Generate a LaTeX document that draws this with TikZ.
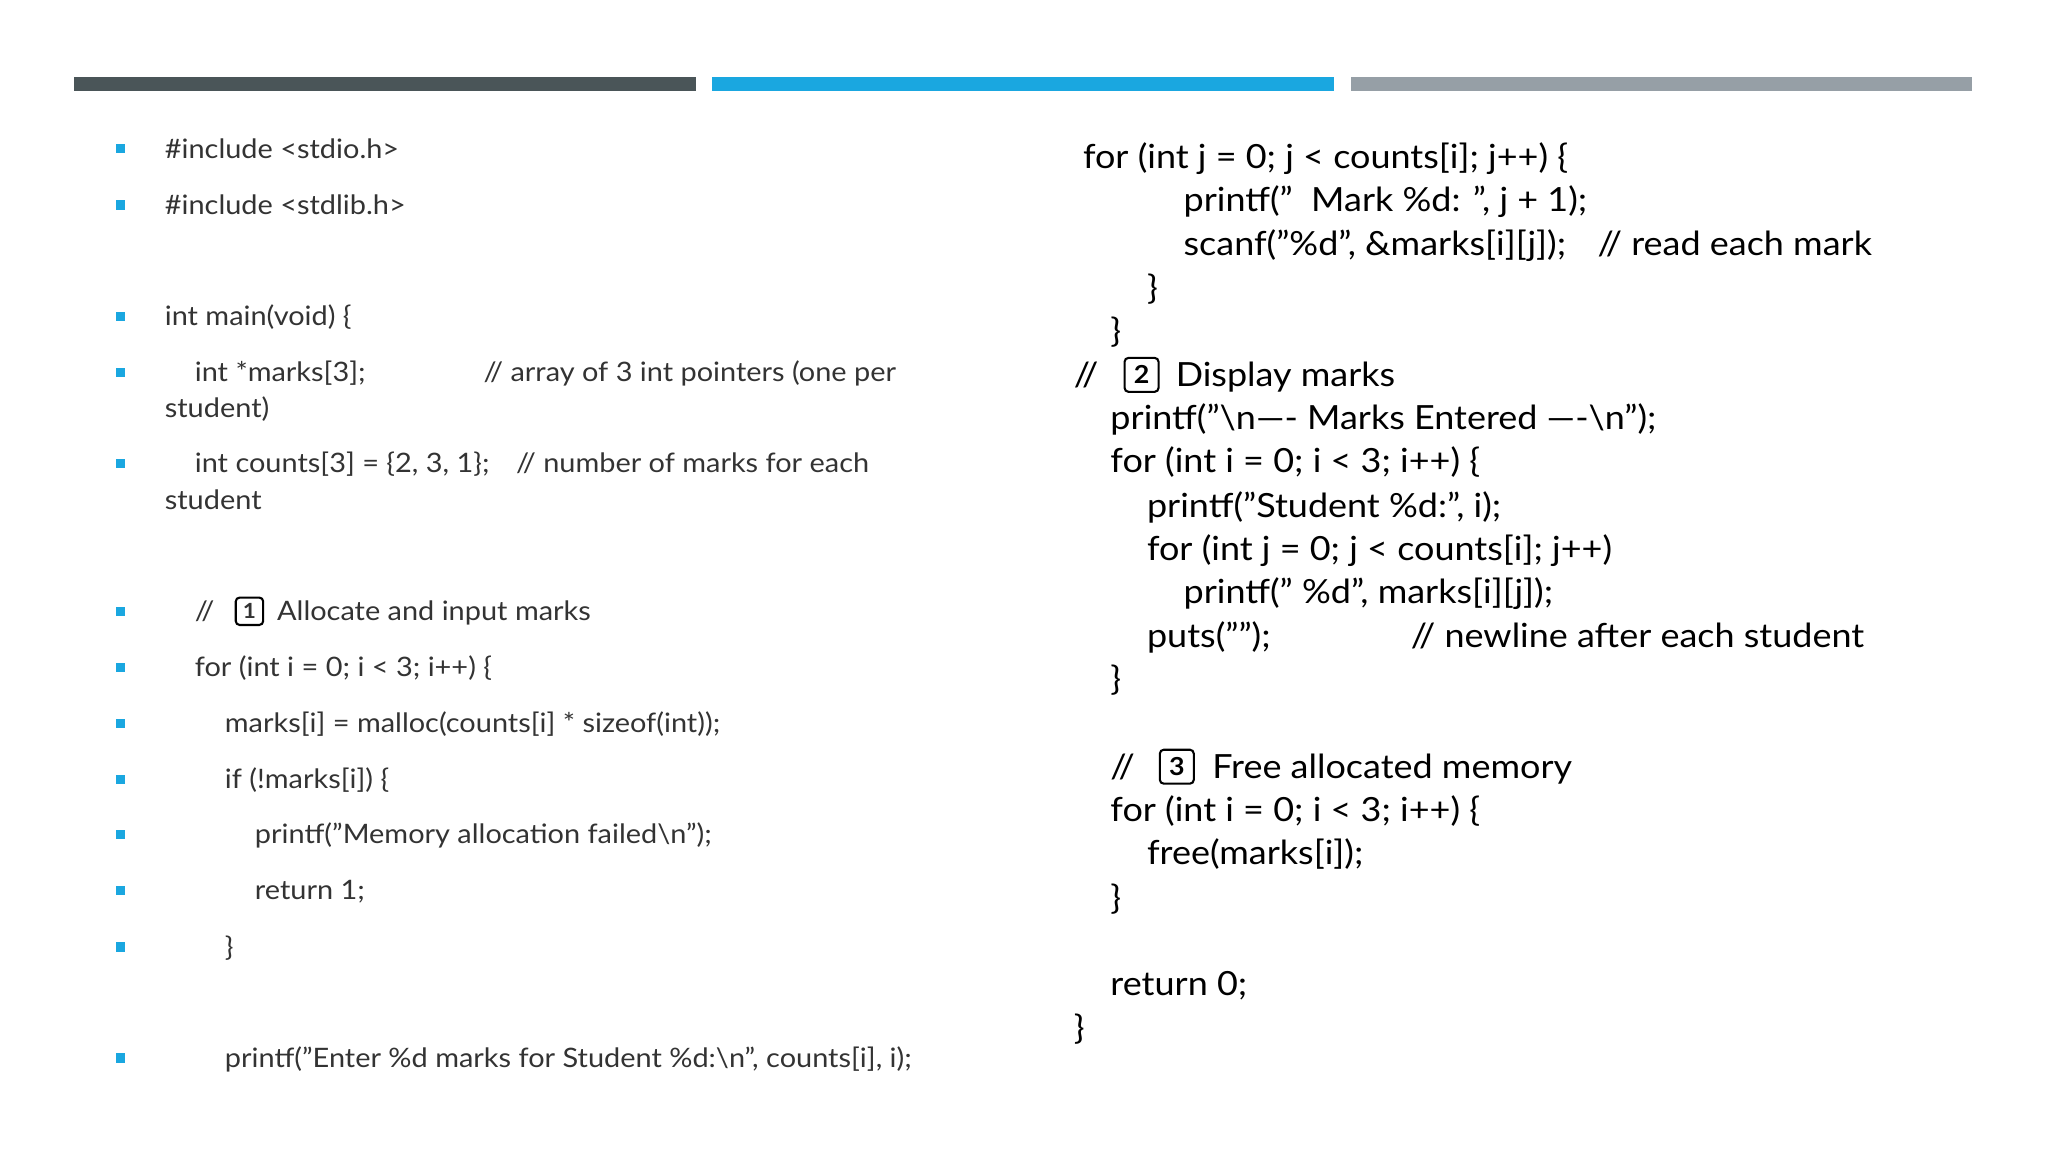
\documentclass[tikz,border=0pt]{standalone}
\usepackage{fontspec}
\setmainfont{Lato}[Ligatures=ResetAll,FakeStretch=1.08]
\definecolor{bdark}{HTML}{4A5558}
\definecolor{bblue}{HTML}{1AA7E0}
\definecolor{bgray}{HTML}{969FA6}
\definecolor{txt}{HTML}{333333}
\tikzset{
  lt/.style={anchor=base west,inner sep=0pt,text=txt,font=\fontsize{20.5}{24}\selectfont},
  rt/.style={anchor=base west,inner sep=0pt,text=black,font=\fontsize{25.5}{30}\selectfont},
  bul/.style={fill=bblue,minimum size=7pt,inner sep=0pt},
  nbox/.style={draw,line width=1.6pt,rounded corners=3pt,inner sep=1pt,minimum width=#1,minimum height=#1,anchor=center},
}
\begin{document}
\begin{tikzpicture}[x=1pt,y=-1pt]
\useasboundingbox (0,0) rectangle (1568,882);
\fill[bdark] (57,59) rectangle (533,70);
\fill[bblue] (545,59) rectangle (1021,70);
\fill[bgray] (1034,59) rectangle (1510,70);
% bullets
\foreach \y [count=\i] in {114,157,242,285,355,468,511,554,597,639,682,725,810}
  \node[bul] (b\i) at (92,\y) {};
% left text
\node[lt] (l1) at (126,121) {\#include <stdio.h>};
\node[lt] (l2) at (126,164) {\#include <stdlib.h>};
\node[lt] (l3) at (126,249) {int main(void) \{};
\node[lt] (l4) at (149,292) {int *marks[3];};
\node[lt] (l4c) at (370,292) {// array of 3 int pointers (one per};
\node[lt] (l4b) at (126,320) {student)};
\node[lt] (l5) at (149,362) {int counts[3] = \{2, 3, 1\};};
\node[lt] (l5c) at (395,362) {// number of marks for each};
\node[lt] (l5b) at (126,390) {student};
\node[lt] (l6) at (149,475) {//};
\node[lt,nbox=21pt,font=\fontsize{16}{18}\selectfont\bfseries] (k1) at (191,468) {1};
\node[lt] (l6b) at (212,475) {Allocate and input marks};
\node[lt] (l7) at (149,518) {for (int i = 0; i < 3; i++) \{};
\node[lt] (l8) at (172,561) {marks[i] = malloc(counts[i] * sizeof(int));};
\node[lt] (l9) at (172,604) {if (!marks[i]) \{};
\node[lt] (l10) at (195,646) {printf("Memory allocation failed\textbackslash n");};
\node[lt] (l11) at (195,689) {return 1;};
\node[lt] (l12) at (172,732) {\}};
\node[lt] (l13) at (172,817) {printf("Enter \%d marks for Student \%d:\textbackslash n", counts[i], i);};
% right text
\node[rt] (r1) at (829,129) {for (int j = 0; j < counts[i]; j++) \{};
\node[rt] (r2) at (906,162) {printf("\ \ Mark \%d: ", j + 1);};
\node[rt] (r3) at (906,196) {scanf("\%d", \&marks[i][j]);};
\node[rt] (r3c) at (1223,196) {// read each mark};
\node[rt] (r4) at (878,229) {\}};
\node[rt] (r5) at (850,262) {\}};
\node[rt] (r6) at (822,296) {//};
\node[rt,nbox=26pt,font=\fontsize{19}{22}\selectfont\bfseries] (k2) at (874,287) {2};
\node[rt] (r6b) at (900,296) {Display marks};
\node[rt] (r7) at (850,329) {printf("\textbackslash n---- Marks Entered ----\textbackslash n");};
\node[rt] (r8) at (850,362) {for (int i = 0; i < 3; i++) \{};
\node[rt] (r9) at (878,396) {printf("Student \%d:", i);};
\node[rt] (r10) at (878,429) {for (int j = 0; j < counts[i]; j++)};
\node[rt] (r11) at (906,462) {printf(" \%d", marks[i][j]);};
\node[rt] (r12) at (878,496) {puts("");};
\node[rt] (r12c) at (1080,496) {// newline after each student};
\node[rt] (r13) at (850,529) {\}};
\node[rt] (r14) at (850,596) {//};
\node[rt,nbox=26pt,font=\fontsize{19}{22}\selectfont\bfseries] (k3) at (901,587) {3};
\node[rt] (r14b) at (928,596) {Free allocated memory};
\node[rt] (r15) at (850,629) {for (int i = 0; i < 3; i++) \{};
\node[rt] (r16) at (878,662) {free(marks[i]);};
\node[rt] (r17) at (850,696) {\}};
\node[rt] (r18) at (850,762) {return 0;};
\node[rt] (r19) at (822,796) {\}};
\end{tikzpicture}
\end{document}
